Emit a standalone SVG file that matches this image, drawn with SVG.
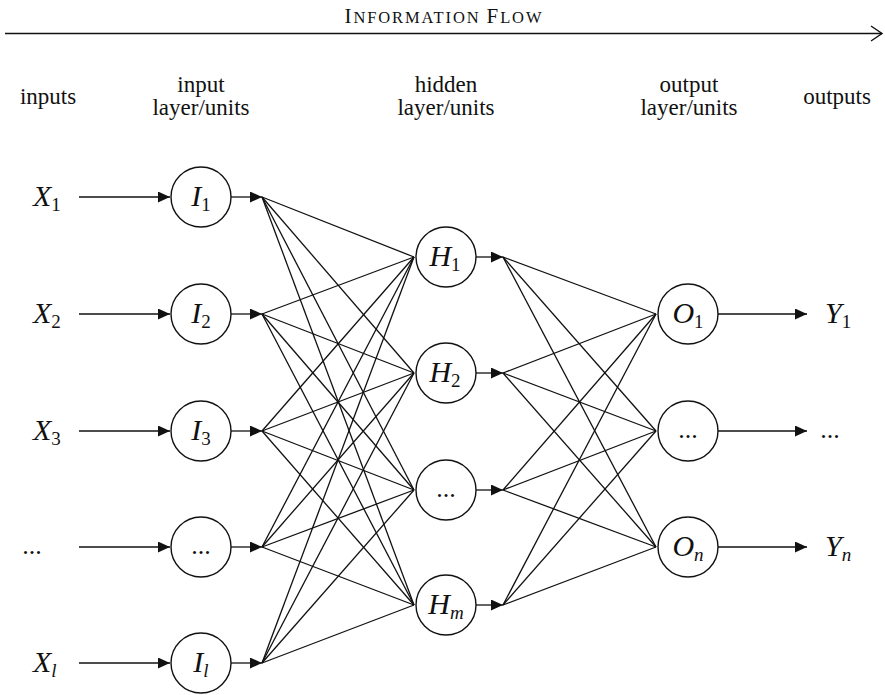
<svg xmlns="http://www.w3.org/2000/svg" width="885" height="695" viewBox="0 0 885 695">
<style>
.node circle{fill:#fff;stroke:#111;stroke-width:1.4}
.c line{stroke:#111;stroke-width:1.3}
.a{marker-end:url(#ah)}
</style>
<defs>
<marker id="ah" markerUnits="userSpaceOnUse" markerWidth="13" markerHeight="12" refX="12" refY="5.5" orient="auto">
<path d="M0,0 L12,5.5 L0,11 z" fill="#111"/>
</marker>
<marker id="open" markerUnits="userSpaceOnUse" markerWidth="14" markerHeight="18" refX="12" refY="8.5" orient="auto">
<path d="M1,1 L12,8.5 L1,16" fill="none" stroke="#111" stroke-width="1.4"/>
</marker>
</defs>
<rect width="885" height="695" fill="#fff"/>

<g id="title" font-family="Liberation Serif" fill="#111">
<text x="443" y="23" text-anchor="middle" textLength="197" lengthAdjust="spacing"><tspan font-size="21">I</tspan><tspan font-size="16.5">NFORMATION </tspan><tspan font-size="21">F</tspan><tspan font-size="16.5">LOW</tspan></text>
</g>

<g id="headers" font-family="Liberation Serif" font-size="23" fill="#111" text-anchor="middle">
<text x="48" y="104">inputs</text>
<text x="201" y="92">input</text>
<text x="201" y="115">layer/units</text>
<text x="446" y="92">hidden</text>
<text x="446" y="115">layer/units</text>
<text x="689" y="92">output</text>
<text x="689" y="115">layer/units</text>
<text x="837" y="104">outputs</text>
</g>

<g id="connectors" class="c">
<line x1="5" y1="33.5" x2="882" y2="33.5" marker-end="url(#open)"/>
<line class="a" x1="79" y1="197" x2="170" y2="197"/>
<line class="a" x1="79" y1="314" x2="170" y2="314"/>
<line class="a" x1="79" y1="431" x2="170" y2="431"/>
<line class="a" x1="79" y1="547" x2="170" y2="547"/>
<line class="a" x1="79" y1="663" x2="170" y2="663"/>
<line class="a" x1="231" y1="197" x2="262" y2="197"/>
<line class="a" x1="231" y1="314" x2="262" y2="314"/>
<line class="a" x1="231" y1="431" x2="262" y2="431"/>
<line class="a" x1="231" y1="547" x2="262" y2="547"/>
<line class="a" x1="231" y1="663" x2="262" y2="663"/>
<line x1="262" y1="197" x2="414" y2="257"/><line x1="262" y1="197" x2="414" y2="373"/><line x1="262" y1="197" x2="414" y2="490"/><line x1="262" y1="197" x2="414" y2="605"/>
<line x1="262" y1="314" x2="414" y2="257"/><line x1="262" y1="314" x2="414" y2="373"/><line x1="262" y1="314" x2="414" y2="490"/><line x1="262" y1="314" x2="414" y2="605"/>
<line x1="262" y1="431" x2="414" y2="257"/><line x1="262" y1="431" x2="414" y2="373"/><line x1="262" y1="431" x2="414" y2="490"/><line x1="262" y1="431" x2="414" y2="605"/>
<line x1="262" y1="547" x2="414" y2="257"/><line x1="262" y1="547" x2="414" y2="373"/><line x1="262" y1="547" x2="414" y2="490"/><line x1="262" y1="547" x2="414" y2="605"/>
<line x1="262" y1="663" x2="414" y2="257"/><line x1="262" y1="663" x2="414" y2="373"/><line x1="262" y1="663" x2="414" y2="490"/><line x1="262" y1="663" x2="414" y2="605"/>
<line class="a" x1="476" y1="257" x2="503" y2="257"/>
<line class="a" x1="476" y1="373" x2="503" y2="373"/>
<line class="a" x1="476" y1="490" x2="503" y2="490"/>
<line class="a" x1="476" y1="605" x2="503" y2="605"/>
<line x1="503" y1="257" x2="656" y2="314"/><line x1="503" y1="257" x2="656" y2="431"/><line x1="503" y1="257" x2="656" y2="547"/>
<line x1="503" y1="373" x2="656" y2="314"/><line x1="503" y1="373" x2="656" y2="431"/><line x1="503" y1="373" x2="656" y2="547"/>
<line x1="503" y1="490" x2="656" y2="314"/><line x1="503" y1="490" x2="656" y2="431"/><line x1="503" y1="490" x2="656" y2="547"/>
<line x1="503" y1="605" x2="656" y2="314"/><line x1="503" y1="605" x2="656" y2="431"/><line x1="503" y1="605" x2="656" y2="547"/>
<line class="a" x1="718" y1="314" x2="807" y2="314"/>
<line class="a" x1="718" y1="431" x2="807" y2="431"/>
<line class="a" x1="718" y1="547" x2="807" y2="547"/>
</g>

<g id="inputs" font-family="Liberation Serif" font-size="30" font-style="italic" fill="#111">
<text x="33" y="206">X<tspan font-size="19" font-style="normal" dy="5">1</tspan></text>
<text x="33" y="323">X<tspan font-size="19" font-style="normal" dy="5">2</tspan></text>
<text x="33" y="440">X<tspan font-size="19" font-style="normal" dy="5">3</tspan></text>
<text x="32" y="554" font-size="26" font-style="normal" text-anchor="middle">...</text>
<text x="33" y="672">X<tspan font-size="19" dy="5">l</tspan></text>
</g>

<g id="I1" class="node" font-family="Liberation Serif" font-size="30" font-style="italic" fill="#111" text-anchor="middle"><circle cx="201" cy="197" r="30"/><text x="201" y="206">I<tspan font-size="19" font-style="normal" dy="5">1</tspan></text></g>
<g id="I2" class="node" font-family="Liberation Serif" font-size="30" font-style="italic" fill="#111" text-anchor="middle"><circle cx="201" cy="314" r="30"/><text x="201" y="323">I<tspan font-size="19" font-style="normal" dy="5">2</tspan></text></g>
<g id="I3" class="node" font-family="Liberation Serif" font-size="30" font-style="italic" fill="#111" text-anchor="middle"><circle cx="201" cy="431" r="30"/><text x="201" y="440">I<tspan font-size="19" font-style="normal" dy="5">3</tspan></text></g>
<g id="Idots" class="node" font-family="Liberation Serif" font-size="26" fill="#111" text-anchor="middle"><circle cx="201" cy="547" r="30"/><text x="201" y="554">...</text></g>
<g id="Il" class="node" font-family="Liberation Serif" font-size="30" font-style="italic" fill="#111" text-anchor="middle"><circle cx="201" cy="663" r="30"/><text x="201" y="672">I<tspan font-size="19" dy="5">l</tspan></text></g>

<g id="H1" class="node" font-family="Liberation Serif" font-size="30" font-style="italic" fill="#111" text-anchor="middle"><circle cx="446" cy="257" r="30"/><text x="445" y="266">H<tspan font-size="19" font-style="normal" dy="5">1</tspan></text></g>
<g id="H2" class="node" font-family="Liberation Serif" font-size="30" font-style="italic" fill="#111" text-anchor="middle"><circle cx="446" cy="373" r="30"/><text x="445" y="382">H<tspan font-size="19" font-style="normal" dy="5">2</tspan></text></g>
<g id="Hdots" class="node" font-family="Liberation Serif" font-size="26" fill="#111" text-anchor="middle"><circle cx="446" cy="490" r="30"/><text x="446" y="497">...</text></g>
<g id="Hm" class="node" font-family="Liberation Serif" font-size="30" font-style="italic" fill="#111" text-anchor="middle"><circle cx="446" cy="605" r="30"/><text x="446" y="614">H<tspan font-size="19" dy="5">m</tspan></text></g>

<g id="O1" class="node" font-family="Liberation Serif" font-size="30" font-style="italic" fill="#111" text-anchor="middle"><circle cx="688" cy="314" r="30"/><text x="688" y="323">O<tspan font-size="19" font-style="normal" dy="5">1</tspan></text></g>
<g id="Odots" class="node" font-family="Liberation Serif" font-size="26" fill="#111" text-anchor="middle"><circle cx="688" cy="431" r="30"/><text x="688" y="438">...</text></g>
<g id="On" class="node" font-family="Liberation Serif" font-size="30" font-style="italic" fill="#111" text-anchor="middle"><circle cx="688" cy="547" r="30"/><text x="688" y="556">O<tspan font-size="19" dy="5">n</tspan></text></g>

<g id="outputs" font-family="Liberation Serif" font-size="30" font-style="italic" fill="#111">
<text x="825" y="323">Y<tspan font-size="19" font-style="normal" dy="5">1</tspan></text>
<text x="830" y="438" font-size="26" font-style="normal" text-anchor="middle">...</text>
<text x="825" y="556">Y<tspan font-size="19" dy="5">n</tspan></text>
</g>
</svg>
